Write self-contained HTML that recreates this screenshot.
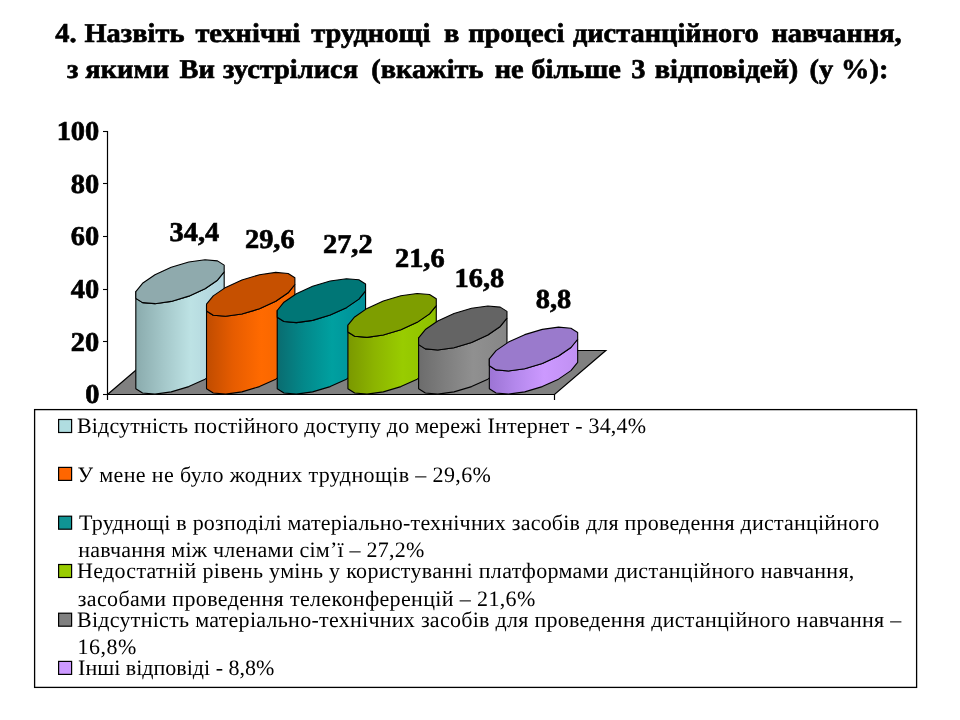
<!DOCTYPE html>
<html><head><meta charset="utf-8"><style>
html,body{margin:0;padding:0;background:#fff;width:960px;height:720px;overflow:hidden}
svg{display:block;will-change:transform}
text{text-rendering:geometricPrecision;white-space:pre}
.b{font-family:"Liberation Serif",serif;font-weight:bold;font-size:27.2px;fill:#000;stroke:#000;stroke-width:0.65px}
.l{font-family:"Liberation Serif",serif;font-size:22px;fill:#000}
</style></head><body>
<svg width="960" height="720" viewBox="0 0 960 720">
<defs><linearGradient id="g0" gradientUnits="userSpaceOnUse" x1="135.82" y1="0" x2="224.18" y2="0"><stop offset="0" stop-color="#8aabad"/><stop offset="0.3" stop-color="#a3c6c8"/><stop offset="0.62" stop-color="#bde2e4"/><stop offset="1" stop-color="#afd2dc"/></linearGradient><linearGradient id="g1" gradientUnits="userSpaceOnUse" x1="206.52" y1="0" x2="294.88" y2="0"><stop offset="0" stop-color="#c04c00"/><stop offset="0.3" stop-color="#e65c00"/><stop offset="0.62" stop-color="#ff6a00"/><stop offset="1" stop-color="#f26400"/></linearGradient><linearGradient id="g2" gradientUnits="userSpaceOnUse" x1="277.22" y1="0" x2="365.58" y2="0"><stop offset="0" stop-color="#0a6c70"/><stop offset="0.3" stop-color="#03888a"/><stop offset="0.62" stop-color="#00a0a0"/><stop offset="1" stop-color="#008e98"/></linearGradient><linearGradient id="g3" gradientUnits="userSpaceOnUse" x1="347.92" y1="0" x2="436.28" y2="0"><stop offset="0" stop-color="#7a9800"/><stop offset="0.3" stop-color="#8cb400"/><stop offset="0.62" stop-color="#99cc00"/><stop offset="1" stop-color="#8ec000"/></linearGradient><linearGradient id="g4" gradientUnits="userSpaceOnUse" x1="418.62" y1="0" x2="506.98" y2="0"><stop offset="0" stop-color="#6c6c6c"/><stop offset="0.3" stop-color="#7e7e7e"/><stop offset="0.62" stop-color="#909090"/><stop offset="1" stop-color="#868686"/></linearGradient><linearGradient id="g5" gradientUnits="userSpaceOnUse" x1="489.32" y1="0" x2="577.68" y2="0"><stop offset="0" stop-color="#9c74d4"/><stop offset="0.3" stop-color="#b488ec"/><stop offset="0.62" stop-color="#cc99ff"/><stop offset="1" stop-color="#c090f2"/></linearGradient></defs>
<polygon points="107.5,394.5 554.5,394.5 605.8,350.5 158.8,350.5" fill="#808080" stroke="#000" stroke-width="1.2"/>
<path d="M135.82,382.03 L135.82,388.81 L142.55,393.07 L154.97,394.15 L171.21,391.88 L188.79,386.62 L205.03,379.17 L217.45,370.65 L224.18,362.37 L224.18,271.90 L217.45,280.18 L205.03,288.70 L188.79,296.15 L171.21,301.41 L154.97,303.67 L142.55,302.60 L135.82,298.34 L135.82,291.56 Z" fill="url(#g0)" stroke="#000" stroke-width="1.1" stroke-linejoin="round"/>
<path d="M224.18,265.12 L217.45,260.86 L205.03,259.78 L188.79,262.05 L171.21,267.31 L154.97,274.76 L142.55,283.28 L135.82,291.56 L135.82,298.34 L142.55,302.60 L154.97,303.67 L171.21,301.41 L188.79,296.15 L205.03,288.70 L217.45,280.18 L224.18,271.90 Z" fill="#8faaad" stroke="#000" stroke-width="1.1" stroke-linejoin="round"/>
<path d="M206.52,382.03 L206.52,388.81 L213.25,393.07 L225.67,394.15 L241.91,391.88 L259.49,386.62 L275.73,379.17 L288.15,370.65 L294.88,362.37 L294.88,284.52 L288.15,292.80 L275.73,301.32 L259.49,308.77 L241.91,314.03 L225.67,316.30 L213.25,315.22 L206.52,310.96 L206.52,304.18 Z" fill="url(#g1)" stroke="#000" stroke-width="1.1" stroke-linejoin="round"/>
<path d="M294.88,277.74 L288.15,273.48 L275.73,272.41 L259.49,274.67 L241.91,279.93 L225.67,287.38 L213.25,295.90 L206.52,304.18 L206.52,310.96 L213.25,315.22 L225.67,316.30 L241.91,314.03 L259.49,308.77 L275.73,301.32 L288.15,292.80 L294.88,284.52 Z" fill="#c65000" stroke="#000" stroke-width="1.1" stroke-linejoin="round"/>
<path d="M277.22,382.03 L277.22,388.81 L283.95,393.07 L296.37,394.15 L312.61,391.88 L330.19,386.62 L346.43,379.17 L358.85,370.65 L365.58,362.37 L365.58,290.84 L358.85,299.12 L346.43,307.63 L330.19,315.09 L312.61,320.35 L296.37,322.61 L283.95,321.53 L277.22,317.28 L277.22,310.49 Z" fill="url(#g2)" stroke="#000" stroke-width="1.1" stroke-linejoin="round"/>
<path d="M365.58,284.05 L358.85,279.80 L346.43,278.72 L330.19,280.98 L312.61,286.24 L296.37,293.70 L283.95,302.21 L277.22,310.49 L277.22,317.28 L283.95,321.53 L296.37,322.61 L312.61,320.35 L330.19,315.09 L346.43,307.63 L358.85,299.12 L365.58,290.84 Z" fill="#007676" stroke="#000" stroke-width="1.1" stroke-linejoin="round"/>
<path d="M347.92,382.03 L347.92,388.81 L354.65,393.07 L367.07,394.15 L383.31,391.88 L400.89,386.62 L417.13,379.17 L429.55,370.65 L436.28,362.37 L436.28,305.56 L429.55,313.84 L417.13,322.36 L400.89,329.81 L383.31,335.07 L367.07,337.34 L354.65,336.26 L347.92,332.00 L347.92,325.22 Z" fill="url(#g3)" stroke="#000" stroke-width="1.1" stroke-linejoin="round"/>
<path d="M436.28,298.78 L429.55,294.52 L417.13,293.45 L400.89,295.71 L383.31,300.97 L367.07,308.42 L354.65,316.94 L347.92,325.22 L347.92,332.00 L354.65,336.26 L367.07,337.34 L383.31,335.07 L400.89,329.81 L417.13,322.36 L429.55,313.84 L436.28,305.56 Z" fill="#7e9e00" stroke="#000" stroke-width="1.1" stroke-linejoin="round"/>
<path d="M418.62,382.03 L418.62,388.81 L425.35,393.07 L437.77,394.15 L454.01,391.88 L471.59,386.62 L487.83,379.17 L500.25,370.65 L506.98,362.37 L506.98,318.19 L500.25,326.47 L487.83,334.98 L471.59,342.44 L454.01,347.70 L437.77,349.96 L425.35,348.88 L418.62,344.63 L418.62,337.84 Z" fill="url(#g4)" stroke="#000" stroke-width="1.1" stroke-linejoin="round"/>
<path d="M506.98,311.40 L500.25,307.15 L487.83,306.07 L471.59,308.33 L454.01,313.59 L437.77,321.05 L425.35,329.56 L418.62,337.84 L418.62,344.63 L425.35,348.88 L437.77,349.96 L454.01,347.70 L471.59,342.44 L487.83,334.98 L500.25,326.47 L506.98,318.19 Z" fill="#646464" stroke="#000" stroke-width="1.1" stroke-linejoin="round"/>
<path d="M489.32,382.03 L489.32,388.81 L496.05,393.07 L508.47,394.15 L524.71,391.88 L542.29,386.62 L558.53,379.17 L570.95,370.65 L577.68,362.37 L577.68,339.23 L570.95,347.51 L558.53,356.02 L542.29,363.48 L524.71,368.74 L508.47,371.00 L496.05,369.92 L489.32,365.67 L489.32,358.88 Z" fill="url(#g5)" stroke="#000" stroke-width="1.1" stroke-linejoin="round"/>
<path d="M577.68,332.44 L570.95,328.19 L558.53,327.11 L542.29,329.37 L524.71,334.63 L508.47,342.09 L496.05,350.60 L489.32,358.88 L489.32,365.67 L496.05,369.92 L508.47,371.00 L524.71,368.74 L542.29,363.48 L558.53,356.02 L570.95,347.51 L577.68,339.23 Z" fill="#9a7acc" stroke="#000" stroke-width="1.1" stroke-linejoin="round"/>
<line x1="107.5" y1="131" x2="107.5" y2="400" stroke="#000" stroke-width="1.2"/>
<line x1="103" y1="394.5" x2="108" y2="394.5" stroke="#000" stroke-width="1.1"/>
<line x1="103" y1="341.5" x2="108" y2="341.5" stroke="#000" stroke-width="1.1"/>
<line x1="103" y1="289.5" x2="108" y2="289.5" stroke="#000" stroke-width="1.1"/>
<line x1="103" y1="236.5" x2="108" y2="236.5" stroke="#000" stroke-width="1.1"/>
<line x1="103" y1="183.5" x2="108" y2="183.5" stroke="#000" stroke-width="1.1"/>
<line x1="103" y1="131.5" x2="108" y2="131.5" stroke="#000" stroke-width="1.1"/>
<line x1="554.5" y1="394" x2="554.5" y2="400" stroke="#000" stroke-width="1.2"/>
<text transform="translate(85.34,403.20) scale(1.045,1)" class="b">0</text>
<text transform="translate(70.86,350.60) scale(1.045,1)" class="b">20</text>
<text transform="translate(70.86,298.00) scale(1.045,1)" class="b">40</text>
<text transform="translate(70.86,245.40) scale(1.045,1)" class="b">60</text>
<text transform="translate(70.86,192.80) scale(1.045,1)" class="b">80</text>
<text transform="translate(56.63,140.20) scale(1.045,1)" class="b">100</text>
<text transform="translate(169.59,240.70) scale(1.045,1)" class="b">34,4</text>
<text transform="translate(244.93,247.70) scale(1.045,1)" class="b">29,6</text>
<text transform="translate(322.93,252.80) scale(1.045,1)" class="b">27,2</text>
<text transform="translate(394.93,266.80) scale(1.045,1)" class="b">21,6</text>
<text transform="translate(454.57,286.80) scale(1.045,1)" class="b">16,8</text>
<text transform="translate(535.78,307.80) scale(1.045,1)" class="b">8,8</text>
<text transform="translate(55.36,41.70) scale(1.045,1)" class="b">4.</text>
<text transform="translate(84.47,41.70) scale(1.045,1)" class="b">Назвіть</text>
<text transform="translate(195.41,41.70) scale(1.045,1)" class="b">технічні</text>
<text transform="translate(311.31,41.70) scale(1.045,1)" class="b">труднощі</text>
<text transform="translate(443.95,41.70) scale(1.045,1)" class="b">в</text>
<text transform="translate(468.15,41.70) scale(1.045,1)" class="b">процесі</text>
<text transform="translate(572.88,41.70) scale(1.045,1)" class="b">дистанційного</text>
<text transform="translate(771.45,41.70) scale(1.045,1)" class="b">навчання,</text>
<text transform="translate(66.90,77.70) scale(1.045,1)" class="b">з</text>
<text transform="translate(85.36,77.70) scale(1.045,1)" class="b">якими</text>
<text transform="translate(179.50,77.70) scale(1.045,1)" class="b">Ви</text>
<text transform="translate(223.00,77.70) scale(1.045,1)" class="b">зустрілися</text>
<text transform="translate(371.17,77.70) scale(1.045,1)" class="b">(вкажіть</text>
<text transform="translate(494.75,77.70) scale(1.045,1)" class="b">не</text>
<text transform="translate(531.28,77.70) scale(1.045,1)" class="b">більше</text>
<text transform="translate(631.29,77.70) scale(1.045,1)" class="b">3</text>
<text transform="translate(654.75,77.70) scale(1.045,1)" class="b">відповідей)</text>
<text transform="translate(809.47,77.70) scale(1.045,1)" class="b">(у</text>
<text transform="translate(841.11,77.70) scale(1.045,1)" class="b">%):</text>
<rect x="34.6" y="409.6" width="882" height="277.8" fill="none" stroke="#000" stroke-width="1.3"/>
<rect x="58.6" y="419.5" width="13" height="13" fill="#b0dde0" stroke="#000" stroke-width="1.2"/>
<rect x="58.6" y="467.4" width="13" height="13" fill="#ff6600" stroke="#000" stroke-width="1.2"/>
<rect x="58.6" y="516.2" width="13" height="13" fill="#109494" stroke="#000" stroke-width="1.2"/>
<rect x="58.6" y="564.5" width="13" height="13" fill="#99cc00" stroke="#000" stroke-width="1.2"/>
<rect x="58.6" y="613.2" width="13" height="13" fill="#808080" stroke="#000" stroke-width="1.2"/>
<rect x="58.6" y="661.4" width="13" height="13" fill="#cc99ff" stroke="#000" stroke-width="1.2"/>
<text x="76.94" y="432.75" class="l" style="letter-spacing:0.179px">Відсутність постійного доступу до мережі Інтернет - 34,4%</text>
<text x="77.41" y="481.60" class="l" style="letter-spacing:0.37px">У мене не було жодних труднощів – 29,6%</text>
<text x="78.96" y="529.70" class="l" style="letter-spacing:0.213px">Труднощі в розподілі матеріально-технічних засобів для проведення дистанційного</text>
<text x="78.21" y="556.70" class="l" style="letter-spacing:0.232px">навчання між членами сім’ї – 27,2%</text>
<text x="76.94" y="577.80" class="l" style="letter-spacing:0.316px">Недостатній рівень умінь у користуванні платформами дистанційного навчання,</text>
<text x="77.77" y="605.50" class="l" style="letter-spacing:0.357px">засобами проведення телеконференцій – 21,6%</text>
<text x="76.94" y="626.75" class="l" style="letter-spacing:0.279px">Відсутність матеріально-технічних засобів для проведення дистанційного навчання –</text>
<text x="77.51" y="653.70" class="l" style="letter-spacing:0.514px">16,8%</text>
<text x="78.07" y="674.75" class="l" style="letter-spacing:0.013px">Інші відповіді - 8,8%</text>
</svg>
</body></html>
